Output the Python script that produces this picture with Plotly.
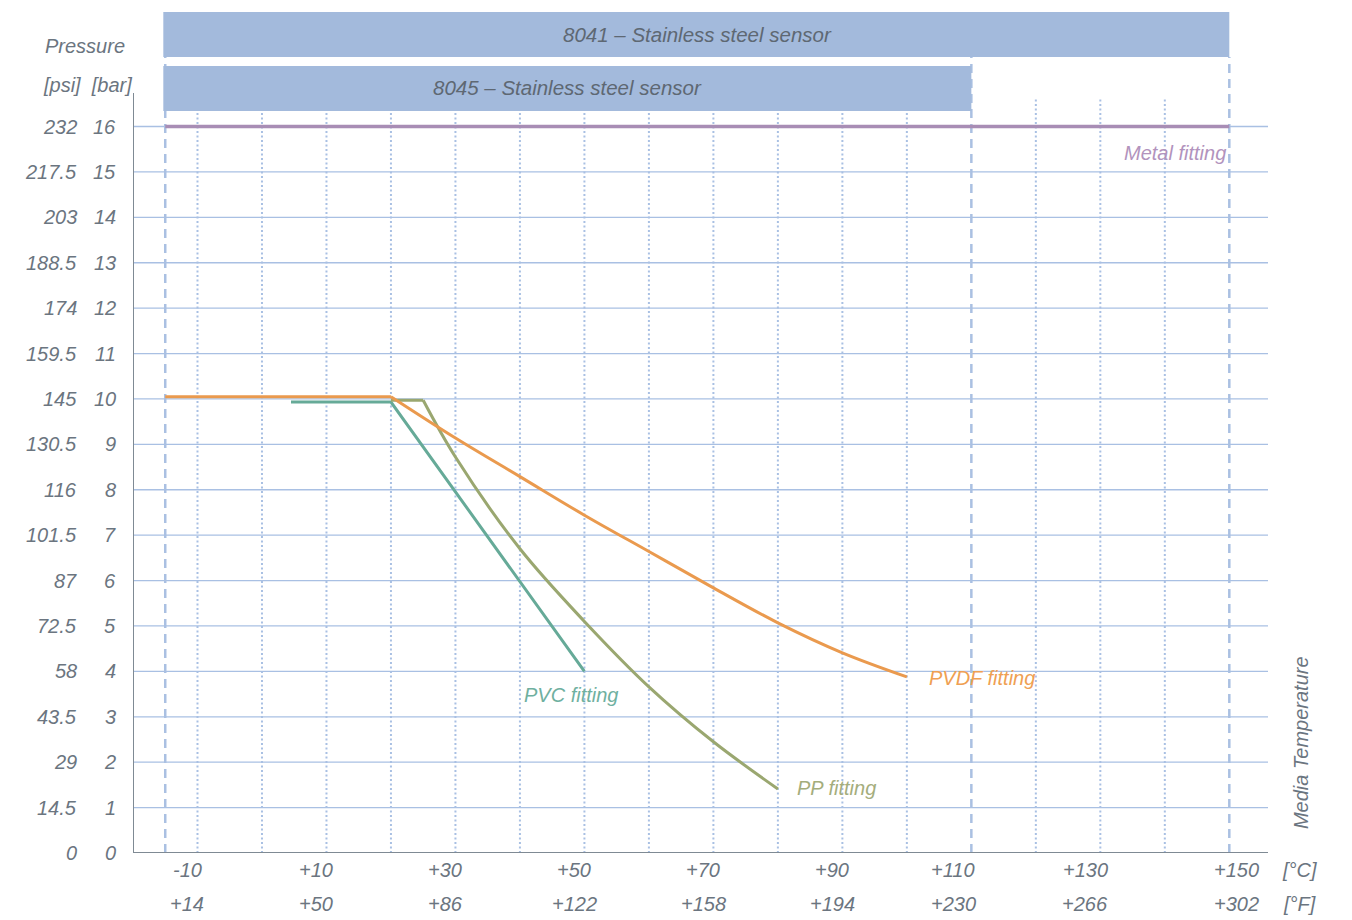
import plotly.graph_objects as go

# ---------------- data ----------------
bar_ticks = list(range(0, 17))
psi_ticks = ["0", "14.5", "29", "43.5", "58", "72.5", "87", "101.5", "116", "130.5",
             "145", "159.5", "174", "188.5", "203", "217.5", "232"]
c_ticks = [-10, 10, 30, 50, 70, 90, 110, 130, 150]
c_labels = ["-10", "+10", "+30", "+50", "+70", "+90", "+110", "+130", "+150"]
f_labels = ["+14", "+50", "+86", "+122", "+158", "+194", "+230", "+266", "+302"]

metal_t = [-15, 150]
metal_p = [16.0, 16.0]
pvdf_flat_t = [-15, 20]
pvdf_flat_p = [10.05, 10.05]
pvdf_t = [20, 30, 40, 50, 60, 70, 80, 90, 100]
pvdf_p = [10.05, 9.14, 8.29, 7.44, 6.64, 5.84, 5.07, 4.41, 3.88]
pvc_t = [4.5, 20, 50]
pvc_p = [9.93, 9.93, 4.0]
pp_flat_t = [20, 25]
pp_flat_p = [9.97, 9.97]
pp_t = [25, 30, 40, 50, 60, 70, 80]
pp_p = [9.97, 8.72, 6.7, 5.1, 3.66, 2.45, 1.41]

sensors = ["8041 – Stainless steel sensor", "8045 – Stainless steel sensor"]
sensor_t_min = [-15.3, -15.3]
sensor_t_max = [150, 110]
sensor_p_low = [17.53, 16.34]
sensor_p_high = [18.52, 17.33]

dotted_t = [-10, 0, 10, 20, 30, 40, 50, 60, 70, 80, 90, 100, 120, 130, 140]
dashed_t = [-15, 110, 150]

# ---------------- style ----------------
FONT = "Liberation Sans, Arial, sans-serif"
GRID = "#a9c0e3"
AXIS = "#7f8a94"
TXT = "#6b7580"
X0, X1 = -20, 156
Y0, Y1 = 0, 18.61

fig = go.Figure()

shapes = []
for b in range(1, 17):
    shapes.append(dict(type="line", xref="x", yref="y", x0=X0, x1=X1, y0=b, y1=b,
                       line=dict(color=GRID, width=1.3), layer="below"))
for t in dotted_t:
    shapes.append(dict(type="line", xref="x", yref="y", x0=t, x1=t, y0=0, y1=16.6,
                       line=dict(color=GRID, width=2, dash="2px,2.5px"), layer="below"))
for t in dashed_t:
    shapes.append(dict(type="line", xref="x", yref="y", x0=t, x1=t, y0=0, y1=17.53,
                       line=dict(color="#aac0e2", width=2.5, dash="9px,6px"), layer="below"))
for i in range(len(sensors)):
    shapes.append(dict(type="rect", xref="x", yref="y",
                       x0=sensor_t_min[i], x1=sensor_t_max[i],
                       y0=sensor_p_low[i], y1=sensor_p_high[i],
                       fillcolor="#a3badc", line=dict(width=0), layer="below"))
# axis lines
shapes.append(dict(type="line", xref="x", yref="y", x0=X0, x1=X1, y0=0, y1=0,
                   line=dict(color=AXIS, width=2)))
shapes.append(dict(type="line", xref="x", yref="y", x0=X0, x1=X0, y0=0, y1=16.74,
                   line=dict(color=AXIS, width=2)))

def line(x, y, color, width=3, spline=False, smoothing=1.0):
    ln = dict(color=color, width=width)
    if spline:
        ln.update(shape="spline", smoothing=smoothing)
    fig.add_trace(go.Scatter(x=x, y=y, mode="lines", line=ln, hoverinfo="skip"))

line(metal_t, metal_p, "#a88db5", 3.5)
line(pvc_t, pvc_p, "#66aa98")
line(pp_flat_t, pp_flat_p, "#9aa770")
line(pp_t, pp_p, "#9aa770", spline=True, smoothing=1.0)
line(pvdf_flat_t, pvdf_flat_p, "#ea9a4e")
line(pvdf_t, pvdf_p, "#ea9a4e", spline=True, smoothing=1.0)

ann = []
def A(**kw):
    base = dict(xref="x", yref="y", showarrow=False,
                font=dict(family=FONT, size=20, color=TXT, style="italic"))
    f = kw.pop("font", {})
    base["font"].update(f)
    base.update(kw)
    ann.append(base)

for b, p in zip(bar_ticks, psi_ticks):
    A(x=X0, y=b, text=str(b), xanchor="right", yanchor="middle", xshift=-15)
    A(x=X0, y=b, text=p, xanchor="right", yanchor="middle", xshift=-54)

for t, c, f in zip(c_ticks, c_labels, f_labels):
    sh = -10
    if t == 110:
        sh = -18
    elif t == 130:
        sh = -15
    elif t == 150:
        sh = 7
    A(x=t, y=0, text=c, xanchor="center", yanchor="middle", yshift=-17, xshift=sh)
    A(x=t, y=0, text=f, xanchor="center", yanchor="middle", yshift=-51, xshift=sh)

A(x=X1, y=0, text="[°C]", xanchor="center", yanchor="middle", yshift=-17, xshift=31)
A(x=X1, y=0, text="[°F]", xanchor="center", yanchor="middle", yshift=-51, xshift=31)
A(x=X1, y=2.42, text="Media Temperature", textangle=-90, xanchor="center",
  yanchor="middle", xshift=33)
A(x=X0, y=17.78, text="Pressure", xanchor="center", yanchor="middle", xshift=-48)
A(x=X0, y=16.92, text="[psi]  [bar]", xanchor="center", yanchor="middle", xshift=-46)

A(x=67.6, y=18.02, text=sensors[0], xanchor="center", yanchor="middle",
  font=dict(color="#5e6873", size=20.5))
A(x=47.4, y=16.85, text=sensors[1], xanchor="center", yanchor="middle",
  font=dict(color="#5e6873", size=20.5))

A(x=150, y=15.42, text="Metal fitting", xanchor="right", yanchor="middle", xshift=-1,
  font=dict(color="#b293bd"))
A(x=40.3, y=3.48, text="PVC fitting", xanchor="left", yanchor="middle",
  font=dict(color="#6fb0a0"))
A(x=82.6, y=1.43, text="PP fitting", xanchor="left", yanchor="middle",
  font=dict(color="#a4ad7c"))
A(x=103.1, y=3.85, text="PVDF fitting", xanchor="left", yanchor="middle",
  font=dict(color="#efa052"))

fig.update_layout(
    width=1344, height=912,
    margin=dict(l=125, r=84, t=0, b=67),
    paper_bgcolor="white", plot_bgcolor="white",
    showlegend=False,
    shapes=shapes, annotations=ann,
    xaxis=dict(range=[X0, X1], showgrid=False, zeroline=False, showticklabels=False,
               showline=False, fixedrange=True),
    yaxis=dict(range=[Y0, Y1], showgrid=False, zeroline=False, showticklabels=False,
               showline=False, fixedrange=True),
)

fig.write_html("out.html", config={"displayModeBar": False})
